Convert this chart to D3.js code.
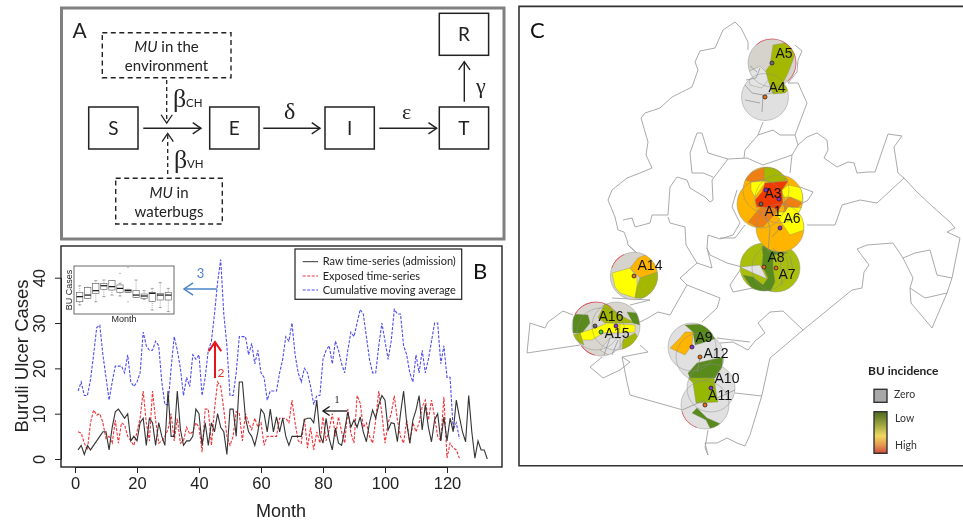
<!DOCTYPE html>
<html><head><meta charset="utf-8">
<style>html,body{margin:0;padding:0;background:#fff;overflow:hidden}svg{display:block;filter:blur(0.35px)}
.cal{font-family:Lato,"Open Sans",sans-serif}.ari{font-family:"Liberation Sans",Arial,sans-serif}.ser{font-family:"Liberation Serif",serif}</style>
<script src="https://cdnjs.cloudflare.com/ajax/libs/d3/7.8.5/d3.min.js"></script></head><body>
<svg id="c" width="963" height="521"></svg>
<script>
// ---------- Panel B data ----------
const rawSeries=[2,3,1,3,2,3,4,5,6,6,2,7,10.4,11,10,9,10,4,5,4,8,9,3,9,8,3,8,5,3,15,5,5,15,6.5,3,4,4,5,11,10,3,8,3,8,6,10,7,6,1,11,11,5,17,17,9,6,5,3,6,11,10,6,11,6,9.3,6,9,5,3,5,5,5,5,8.7,9,9,8,13,5.3,3.5,9,4.5,2,6.8,3.5,3,6.4,10.4,7,8.6,7,9.3,6,3.8,8,10.8,9,12,14,13,6.4,8,7.8,3.8,10,15,8,3.5,8.6,10.8,14,6.4,12,7,3.8,8.6,10,4,9.3,4,9,6,13,9.3,6,3.8,14,6,0.2,4,2,2,0];
const exposedSeries=[6,5.7,3.5,2,8,10.8,9.7,10,8,4.5,5,3.5,8.6,3.5,8,7.5,5,4,3,6,9,15,8,4,15,8.6,3.5,4,5,6.5,10,4,9,3.5,4,7,5.5,6,8,7,1.5,11,11,3,11,17,16,11,5,3,5,10.5,10,4,10,8,6.5,9,7,8,3,5,5,5,5,9,9,9,8,13,8,4,3.5,9,2.4,7,2,6,3.5,9.3,4,6.4,10,5,9.3,6,3.5,11,5.7,3.5,14,12.3,7,8,5,3.5,8.6,15,10,3.5,8,10,14,8.6,5,3.5,8.6,3.5,8,6,8,11.5,13,8.6,13,9.3,5,4,13.7,0.2,3.5,2.4,2,0.2];
const cmaSeries=[15,17,14,14,17.5,23,29,29.5,23,18,13,17,20.5,20.5,20.5,19,23,17,16,17,19,28,25,24,24,26,25,17,12,12,20,27,24,20,14,18,16,23,22,23,14,18,24,26,32,39,44,32,25,14,14,19,27,27,27,23,25.5,21,24,19,18,13,15,15,15,19,22,27,26,30,23,19,17,20,19,16,12,14,14,22,24,25,21,26,24,21,19,24,28,27,30,33,32,27,22,19,19,25,30,26,22,26,33,32,32,25,23,19,17,23,19,24,19,22,26,30,30,21,25,18,18,6.5,8,4.5];
const xTickVals=[0,20,40,60,80,100,120];
const yTickVals=[0,10,20,30,40];
const legendLabels=["Raw time-series (admission)","Exposed time-series","Cumulative moving average"];
// inset: [low, q1, median, q3, high] for months 1-12
const boxLow=[3.4,5.9,4.6,6.5,7.1,6.75,8.1,6.25,5.5,1.5,2.4,0.9];
const boxQ1=[4.6,5.9,7.75,9.25,9,8,8.1,6.25,5.9,4.75,5.25,5.25];
const boxMed=[6.5,7.1,8.75,10.6,10.25,9.6,8.75,7.1,6.75,7.75,7.1,7.1];
const boxQ3=[8.1,10,11.5,11.5,12.5,10.9,9.25,8.75,7.5,8.1,7.75,8.1];
const boxHigh=[10.6,10,12.5,12.75,12.5,11.5,9.25,12.75,8.75,9.6,11.75,9.6];
const boxOutliers=[[6,15.25],[7,17.4],[7,4.6]];
// ---------- Panel C data ----------
const boundaries=[
[[748,50],[748,42],[741,28],[735,22],[723,30],[715,48],[700,51],[695,62],[698,70],[692,87],[672,97],[660,108],[645,113],[641,118],[648,142],[646,155],[652,168],[640,173],[627,178],[612,190],[608,200],[615,217],[618,230],[624,232],[627,240],[628,245],[637,253]],
[[795,45],[802,51],[798,60],[797,72],[788,83],[798,83],[807,103],[795,135],[798,145],[807,137],[817,133],[827,140],[828,150],[824,158],[837,167],[848,162],[854,163],[857,173],[868,172],[875,172],[888,134],[902,136],[894,147],[898,173],[904,178],[917,192],[933,207],[950,222],[955,228],[947,232],[960,238],[952,278],[947,293],[932,328],[911,303],[910,288],[913,278],[903,258],[893,243],[867,245],[857,249],[869,265],[864,272],[862,288],[852,290],[803,330],[770,358],[762,395],[750,435],[745,446],[737,443],[727,438],[717,443],[705,443],[708,455],[705,448],[708,430]],
[[910,288],[925,298],[947,293]],
[[903,258],[915,253],[930,250],[937,275],[952,278]],
[[623,220],[632,218],[635,227],[650,223],[652,215],[668,215],[670,187],[677,177],[687,180],[690,188],[705,197],[710,202],[713,200],[712,180],[728,159],[747,158],[763,165],[792,155],[790,173]],
[[708,153],[702,133],[697,133],[690,153],[692,173],[703,173],[713,177]],[[708,153],[728,159]],
[[668,217],[670,223],[685,227],[686,245],[697,263],[680,278],[687,285],[720,298],[717,308],[702,322]],
[[687,285],[670,315],[658,312],[648,318],[640,322]],
[[697,263],[712,268],[707,248],[708,235],[720,239],[733,235],[740,223],[732,207],[737,190]],
[[710,255],[727,263],[742,267]],[[707,248],[710,255]],
[[733,292],[730,285],[742,267]],[[733,292],[753,288]],
[[745,225],[735,238],[720,238]],
[[763,122],[758,135],[773,130],[780,135],[795,135]],[[758,135],[745,150],[744,158]],
[[798,145],[792,155]],
[[800,187],[813,192],[808,200],[803,203]],
[[807,225],[835,225],[842,205],[860,200],[877,203],[904,178]],
[[628,245],[637,253]],
[[612,298],[650,300],[630,305]],
[[573,315],[563,311],[548,322],[545,328],[530,323],[527,353],[580,345]],
[[640,345],[648,352],[622,357],[630,362],[620,370],[603,378],[590,367],[602,357]],
[[622,357],[627,382],[630,395],[683,410]],
[[770,312],[758,323],[765,333],[755,341],[748,350],[733,342],[720,343]],[[770,312],[783,311],[803,330]],
[[762,396],[735,393]],
[[717,338],[733,340],[750,342]]
];
const clusters=[
{name:"a5",fill:"#d6d3cd",circles:[[772,63,24],[765,97,23.5,"#e0e0e0"]]},
{name:"a14",fill:"#d6d3cd",circles:[[634,276,23.7]]},
{name:"a16",fill:"#d9d6d0",circles:[[596,326,24],[601,332,24],[616,326,24]]},
{name:"a9",fill:"#e0e0e0",circles:[[692,347,24],[700,357,24],[711,388,24],[705,405,24]]},
{name:"a8",fill:"#a9bf0c",circles:[[764,267,24],[776,268,24]]},
{name:"a1",fill:"#ffb400",circles:[[766,190,23],[779,199,24],[761,204,24],[780,228,24]]}
];
const regionCluster=["a5","a5","a14","a14","a14","a16","a16","a16","a16","a16","a16","a16","a9","a9","a9","a9","a9","a8","a8","a1","a1","a1","a1","a1","a1","a1","a1"];
const regionColor=["#a5b800","#e4e4e4","#ffb400","#ffff00","#a5b800","#588a1c","#a5b800","#588a1c","#ffff00","#a5b800","#a5b800","#e2e2e2","#588a1c","#ffb400","#588a1c","#96b800","#588a1c","#588a1c","#e2e2e2","#ef7f12","#a5b800","#ffff00","#f03a00","#ffff00","#ef7f12","#ef7f12","#ffff00"];
const regionPoints=[
[[773,45],[785,43],[796,50],[793,60],[788,73],[783,83],[788,90],[785,93],[773,94],[768,80],[765,72],[770,65]],
[[748,72],[760,66],[766,72],[768,80],[762,88],[750,85]],
[[638,258],[645,255],[653,257],[658,272],[650,275],[640,278],[630,268]],
[[612,273],[630,268],[637,278],[637,287],[635,298],[620,293],[615,287]],
[[640,278],[658,272],[658,285],[648,298],[635,298],[637,287]],
[[573,314],[588,315],[590,323],[582,333],[573,333]],
[[605,303],[620,315],[635,323],[605,323],[598,318]],
[[627,312],[637,313],[640,325],[633,323]],
[[580,333],[598,327],[607,323],[635,325],[635,332],[617,333],[603,333],[592,340],[582,340]],
[[572,335],[580,333],[584,345],[575,340]],
[[623,340],[635,333],[640,340],[633,347],[622,350]],
[[600,350],[610,338],[620,338],[620,350],[610,356]],
[[685,325],[703,324],[717,338],[702,343],[695,345],[693,332]],
[[685,332],[693,332],[692,345],[685,355],[670,348],[680,338]],
[[688,373],[697,363],[723,357],[722,367],[715,378],[690,378]],
[[688,378],[714,378],[717,398],[718,402],[696,403],[693,383]],
[[692,413],[697,408],[707,418],[723,425],[712,432],[706,420]],
[[762,247],[772,240],[773,250],[788,253],[773,255],[773,268],[775,282],[770,292],[753,290],[743,275],[753,277],[763,285],[768,278],[762,265],[763,255]],
[[740,267],[760,265],[767,279],[753,273]],
[[745,180],[752,172],[765,167],[764,180],[753,182]],
[[764,167],[775,168],[788,180],[770,183],[764,180]],
[[751,182],[764,181],[765,183],[755,197],[751,190]],
[[765,183],[788,181],[782,190],[783,203],[777,212],[775,208],[757,207],[755,200],[762,192]],
[[788,185],[802,188],[803,202],[790,197],[783,197],[782,190]],
[[783,203],[790,197],[802,203],[797,208],[788,207],[785,212]],
[[748,222],[760,208],[775,208],[777,212],[763,227],[757,227]],
[[777,212],[785,212],[788,207],[804,208],[804,230],[790,235],[783,225],[778,217]]
];
const innerLines=[
[[745,85],[752,93],[763,95],[762,112]],[[763,95],[775,92]],[[745,100],[760,103]],
[[750,66],[757,72]],[[746,80],[756,78],[760,68]],
[[700,358],[697,372]],[[705,400],[682,410]],[[717,398],[735,390]],
[[610,338],[604,355]],[[618,340],[612,355]],
[[773,248],[780,256],[782,285]],[[790,256],[793,270]],
[[765,213],[770,228],[768,252]],[[783,225],[772,237]]
];
const redArcs=[[772,63,24,-40,140],[634,276,23.7,-70,-25],[596,326,24,-60,40],[601,332,24,195,235],[705,405,24,200,255]];
const sites=["A5","A4","A3","S","A1","A6","A8","A7","A14","A16","A15","S2","A9","A12","A10","A11"];
const siteLon=[772,765,766,779,761,780,764,776,634,595,601,616,692,700,711,705];
const siteLat=[63,97,190,199,204,228,267,268,276,326,332,326,347,357,388,405];
const siteColor=["#6a6a80","#f07010","#8a2be2","#8a2be2","#666","#8a2be2","#f07010","#f07010","#f07010","#666","#40d040","#8a2be2","#8a2be2","#f07010","#8a2be2","#f07010"];
const labelNames=["A5","A4","A3","A1","A6","A8","A7","A14","A16","A15","A9","A12","A10","A11"];
const labelLon=[784,777,773,773,792,776,787,650,611,617,704,716,727,720];
const labelLat=[53,87,193,211,218,257,274,265,316,333,337,353,378,395];

const svg=d3.select("#c");
const ink="#222";
// ---------- Panel A ----------
const A=svg.append("g");
A.append("rect").attr("x",61.5).attr("y",8).attr("width",442.5).attr("height",231).attr("fill","none").attr("stroke","#808080").attr("stroke-width",3);
const solidBoxes=[["S",88.7,107],["E",209.7,107],["I",325,107],["T",439.3,107],["R",439.3,13.3]];
A.selectAll("rect.s").data(solidBoxes).join("rect").attr("class","s").attr("x",d=>d[1]).attr("y",d=>d[2]).attr("width",49.3).attr("height",42).attr("fill","#fff").attr("stroke",ink).attr("stroke-width",1.5);
A.selectAll("text.s").data(solidBoxes).join("text").attr("class","s cal").attr("x",d=>d[1]+24.6).attr("y",d=>d[2]+27.5).attr("text-anchor","middle").attr("font-size",19).attr("fill",ink).text(d=>d[0]);
[[102.3,32.7,128.7,45],[115.7,178.3,106.6,45.7]].forEach(b=>A.append("rect").attr("x",b[0]).attr("y",b[1]).attr("width",b[2]).attr("height",b[3]).attr("fill","none").attr("stroke",ink).attr("stroke-width",1.4).attr("stroke-dasharray","5 3.5"));
function arrow(g,x1,y1,x2,y2,col,w,dash,head){
 const l=g.append("line").attr("x1",x1).attr("y1",y1).attr("x2",x2).attr("y2",y2).attr("stroke",col).attr("stroke-width",w);
 if(dash)l.attr("stroke-dasharray",dash);
 const a=Math.atan2(y2-y1,x2-x1),h=head||10;
 g.append("path").attr("d",d3.line()([[x2-h*Math.cos(a-0.6),y2-h*Math.sin(a-0.6)],[x2,y2],[x2-h*Math.cos(a+0.6),y2-h*Math.sin(a+0.6)]])).attr("fill","none").attr("stroke",col).attr("stroke-width",w);
}
arrow(A,143.3,128.3,201,128.3,ink,1.4);arrow(A,263.3,128.3,320,128.3,ink,1.4);arrow(A,379.3,128.3,436.7,128.3,ink,1.4);arrow(A,464.3,101.7,464.3,61.7,ink,1.4);
arrow(A,166.7,80,166.7,123,ink,1.3,"4 3");arrow(A,167.7,174,167.7,133.3,ink,1.3,"4 3");
const T=(x,y,s,size,cls,extra)=>{const t=A.append("text").attr("x",x).attr("y",y).attr("font-size",size).attr("class",cls).attr("fill",ink).text(s);if(extra)t.attr("text-anchor",extra);return t;};
T(72.5,38,"A",21,"cal");
const mu=(x,y,rest)=>{const t=A.append("text").attr("x",x).attr("y",y).attr("class","cal").attr("font-size",15).attr("text-anchor","middle").attr("fill",ink);t.append("tspan").attr("font-style","italic").text("MU");t.append("tspan").text(rest);};
mu(166.5,52," in the");T(166.5,71,"environment",15,"cal","middle");
mu(169,198," in");T(169,217,"waterbugs",15,"cal","middle");
T(173,107,"β",26,"ser");T(186,107,"CH",11.5,"cal");
T(174,168,"β",26,"ser");T(187,168,"VH",11.5,"cal");
T(284,119,"δ",24,"ser");T(402,119,"ε",22,"ser");T(476,93,"γ",22,"ser");
// ---------- Panel B ----------
const B=svg.append("g");
const x=d3.scaleLinear().domain([0,120]).range([75,447]);
const y=d3.scaleLinear().domain([0,40]).range([459,277.7]);
B.append("rect").attr("x",61).attr("y",246).attr("width",441).attr("height",221).attr("fill","none").attr("stroke","#222").attr("stroke-width",1.4);
const xa=B.append("g").attr("transform","translate(0,467)").call(d3.axisBottom(x).tickValues(xTickVals).tickSize(6).tickSizeOuter(0).tickPadding(4));
xa.select(".domain").attr("stroke","#222");xa.selectAll("line").attr("stroke","#222");
xa.selectAll("text").attr("class","ari").attr("font-size",16.5).attr("font-family",null).attr("fill","#222");
const ya=B.append("g").attr("transform","translate(61,0)").call(d3.axisLeft(y).tickValues(yTickVals).tickSize(6).tickSizeOuter(0).tickFormat(d=>d));
ya.select(".domain").attr("stroke","#222");ya.selectAll("line").attr("stroke","#222");
ya.selectAll("text").attr("class","ari").attr("font-size",16.5).attr("fill","#222").attr("text-anchor","middle").attr("x",0).attr("y",0).attr("dy",0).attr("transform","translate(-16,0) rotate(-90)");
B.append("text").attr("class","ari").attr("font-size",18.5).attr("text-anchor","middle").attr("fill","#222").attr("transform","translate(28,356) rotate(-90)").text("Buruli Ulcer Cases");
B.append("text").attr("class","ari").attr("font-size",18).attr("text-anchor","middle").attr("fill","#222").attr("x",281).attr("y",517).text("Month");
const ln=d3.line().x((d,i)=>x(i+1)).y(d=>y(d));
B.append("path").attr("d",ln(cmaSeries)).attr("fill","none").attr("stroke","#4d4df0").attr("stroke-width",1.1).attr("stroke-dasharray","3 1.5");
B.append("path").attr("d",ln(exposedSeries)).attr("fill","none").attr("stroke","#ee3338").attr("stroke-width",1.1).attr("stroke-dasharray","3 1.5");
B.append("path").attr("d",ln(rawSeries)).attr("fill","none").attr("stroke","#333").attr("stroke-width",1.1);
// legend
B.append("rect").attr("x",295).attr("y",249).attr("width",166.7).attr("height",50.3).attr("fill","#fff").attr("stroke","#222").attr("stroke-width",1.2);
const legColor=["#333","#ee3338","#4d4df0"],legDash=[null,"3 1.5","3 1.5"],legY=[261.7,276,290];
legendLabels.forEach((s,i)=>{
 const l=B.append("line").attr("x1",302.7).attr("x2",318).attr("y1",legY[i]).attr("y2",legY[i]).attr("stroke",legColor[i]).attr("stroke-width",1);
 if(legDash[i])l.attr("stroke-dasharray",legDash[i]);
 B.append("text").attr("class","cal").attr("x",322.7).attr("y",legY[i]+3.5).attr("font-size",11).attr("fill","#222").text(s);
});
B.append("text").attr("class","cal").attr("x",473).attr("y",279).attr("font-size",22).attr("fill","#111").text("B");
// annotations
arrow(B,347,411,323,411,"#111",1.3,null,8);
B.append("text").attr("class","ser").attr("x",337).attr("y",403).attr("font-size",10).attr("text-anchor","middle").attr("fill","#111").text("1");
arrow(B,215,378,215,342,"#e8141c",2,null,11);
B.append("text").attr("class","cal").attr("x",221).attr("y",377).attr("font-size",12).attr("text-anchor","middle").attr("fill","#e0352b").text("2");
arrow(B,217,289,184,289,"#4a86c8",1.5,null,11);
B.append("text").attr("class","cal").attr("x",200.5).attr("y",278).attr("font-size",13).attr("text-anchor","middle").attr("fill","#4a7fc0").text("3");
// inset boxplot
const I=B.append("g");
I.append("rect").attr("x",74).attr("y",266).attr("width",100).attr("height",48).attr("fill","#fff").attr("stroke","#444").attr("stroke-width",0.8);
const bx=d3.scaleBand().domain(d3.range(1,13)).range([74,174]).paddingInner(0.22).paddingOuter(0.32);
const by=d3.scaleLinear().domain([0,18]).range([314,266]);
boxMed.forEach((m,i)=>{
 const c=bx(i+1)+bx.bandwidth()/2,w=bx.bandwidth();
 I.append("line").attr("x1",c).attr("x2",c).attr("y1",by(boxLow[i])).attr("y2",by(boxHigh[i])).attr("stroke","#555").attr("stroke-width",0.5).attr("stroke-dasharray","1 1");
 [boxLow[i],boxHigh[i]].forEach(v=>I.append("line").attr("x1",c-w/4).attr("x2",c+w/4).attr("y1",by(v)).attr("y2",by(v)).attr("stroke","#555").attr("stroke-width",0.5));
 I.append("rect").attr("x",bx(i+1)).attr("width",w).attr("y",by(boxQ3[i])).attr("height",by(boxQ1[i])-by(boxQ3[i])).attr("fill","#fff").attr("stroke","#555").attr("stroke-width",0.6);
 I.append("line").attr("x1",bx(i+1)).attr("x2",bx(i+1)+w).attr("y1",by(m)).attr("y2",by(m)).attr("stroke","#111").attr("stroke-width",1.2);
});
boxOutliers.forEach(o=>I.append("circle").attr("cx",bx(o[0])+bx.bandwidth()/2).attr("cy",by(o[1])).attr("r",0.5).attr("fill","#555"));
I.append("text").attr("class","ari").attr("font-size",9).attr("text-anchor","middle").attr("fill","#222").attr("transform","translate(72,290) rotate(-90)").text("BU Cases");
I.append("text").attr("class","ari").attr("font-size",9).attr("text-anchor","middle").attr("fill","#222").attr("x",124).attr("y",322).text("Month");
// ---------- Panel C ----------
const C=svg.append("g");
const mx=d3.scaleLinear().domain([519,963]).range([519,963]);
const my=d3.scaleLinear().domain([6,466]).range([6,466]);
const mline=d3.line().x(d=>mx(d[0])).y(d=>my(d[1]));
C.append("path").attr("d",`M975,6.4H519V465.7H975`).attr("fill","none").attr("stroke","#333").attr("stroke-width",1.6);
C.append("text").attr("class","cal").attr("x",530).attr("y",38).attr("font-size",22).attr("fill","#111").text("C");
C.selectAll("path.b").data(boundaries).join("path").attr("class","b").attr("d",mline).attr("fill","none").attr("stroke","#a0a0a0").attr("stroke-width",0.9);
const defs=svg.append("defs");
clusters.forEach(c=>{
 const g=C.append("g");
 defs.append("clipPath").attr("id","clip-"+c.name).selectAll("circle").data(c.circles).join("circle").attr("cx",d=>mx(d[0])).attr("cy",d=>my(d[1])).attr("r",d=>d[2]);
 g.selectAll("circle.f").data(c.circles).join("circle").attr("class","f").attr("cx",d=>mx(d[0])).attr("cy",d=>my(d[1])).attr("r",d=>d[2]).attr("fill",d=>d[3]||c.fill);
 const rg=g.append("g").attr("clip-path",`url(#clip-${c.name})`);
 regionPoints.forEach((p,i)=>{if(regionCluster[i]===c.name)rg.append("path").attr("d",mline(p)+"Z").attr("fill",regionColor[i]).attr("stroke","#8a8a70").attr("stroke-width",0.4);});
 g.selectAll("circle.o").data(c.circles).join("circle").attr("class","o").attr("cx",d=>mx(d[0])).attr("cy",d=>my(d[1])).attr("r",d=>d[2]).attr("fill","none").attr("stroke","#8a8a8a").attr("stroke-width",0.6).attr("stroke-opacity",0.75);
});
const arcGen=d3.arc();
redArcs.forEach(a=>C.append("path").attr("transform",`translate(${mx(a[0])},${my(a[1])})`).attr("d",arcGen({innerRadius:a[2]-0.3,outerRadius:a[2]+0.3,startAngle:a[3]*Math.PI/180,endAngle:a[4]*Math.PI/180})).attr("fill","#f03040"));
C.selectAll("path.i").data(innerLines).join("path").attr("class","i").attr("d",mline).attr("fill","none").attr("stroke","#8c8c8c").attr("stroke-width",0.7);
C.selectAll("circle.d").data(sites).join("circle").attr("class","d").attr("cx",(d,i)=>mx(siteLon[i])).attr("cy",(d,i)=>my(siteLat[i])).attr("r",2).attr("fill",(d,i)=>siteColor[i]).attr("stroke","#222").attr("stroke-width",0.8);
C.selectAll("text.l").data(labelNames).join("text").attr("class","l ari").attr("x",(d,i)=>mx(labelLon[i])).attr("y",(d,i)=>my(labelLat[i])+5).attr("text-anchor","middle").attr("font-size",14).attr("fill","#111").text(d=>d);
// BU legend
const grad=defs.append("linearGradient").attr("id","bu").attr("x1",0).attr("x2",0).attr("y1",0).attr("y2",1);
[[0,"#4c6a1e"],[0.3,"#9aa23c"],[0.58,"#efd860"],[0.8,"#e49a50"],[1,"#cf4a3c"]].forEach(s=>grad.append("stop").attr("offset",s[0]).attr("stop-color",s[1]));
C.append("rect").attr("x",874).attr("y",389.3).attr("width",13).attr("height",13).attr("fill","#a8a8a8").attr("stroke","#333").attr("stroke-width",1.4);
C.append("rect").attr("x",874).attr("y",411.7).attr("width",13).attr("height",41.6).attr("fill","url(#bu)").attr("stroke","#333").attr("stroke-width",1.4);
C.append("text").attr("class","cal").attr("x",868).attr("y",375).attr("font-size",12).attr("font-weight",700).attr("fill","#222").text("BU incidence");
[["Zero",894,398],["Low",895,422],["High",895,449]].forEach(t=>C.append("text").attr("class","cal").attr("x",t[1]).attr("y",t[2]).attr("font-size",10.5).attr("fill","#333").text(t[0]));
</script></body></html>
